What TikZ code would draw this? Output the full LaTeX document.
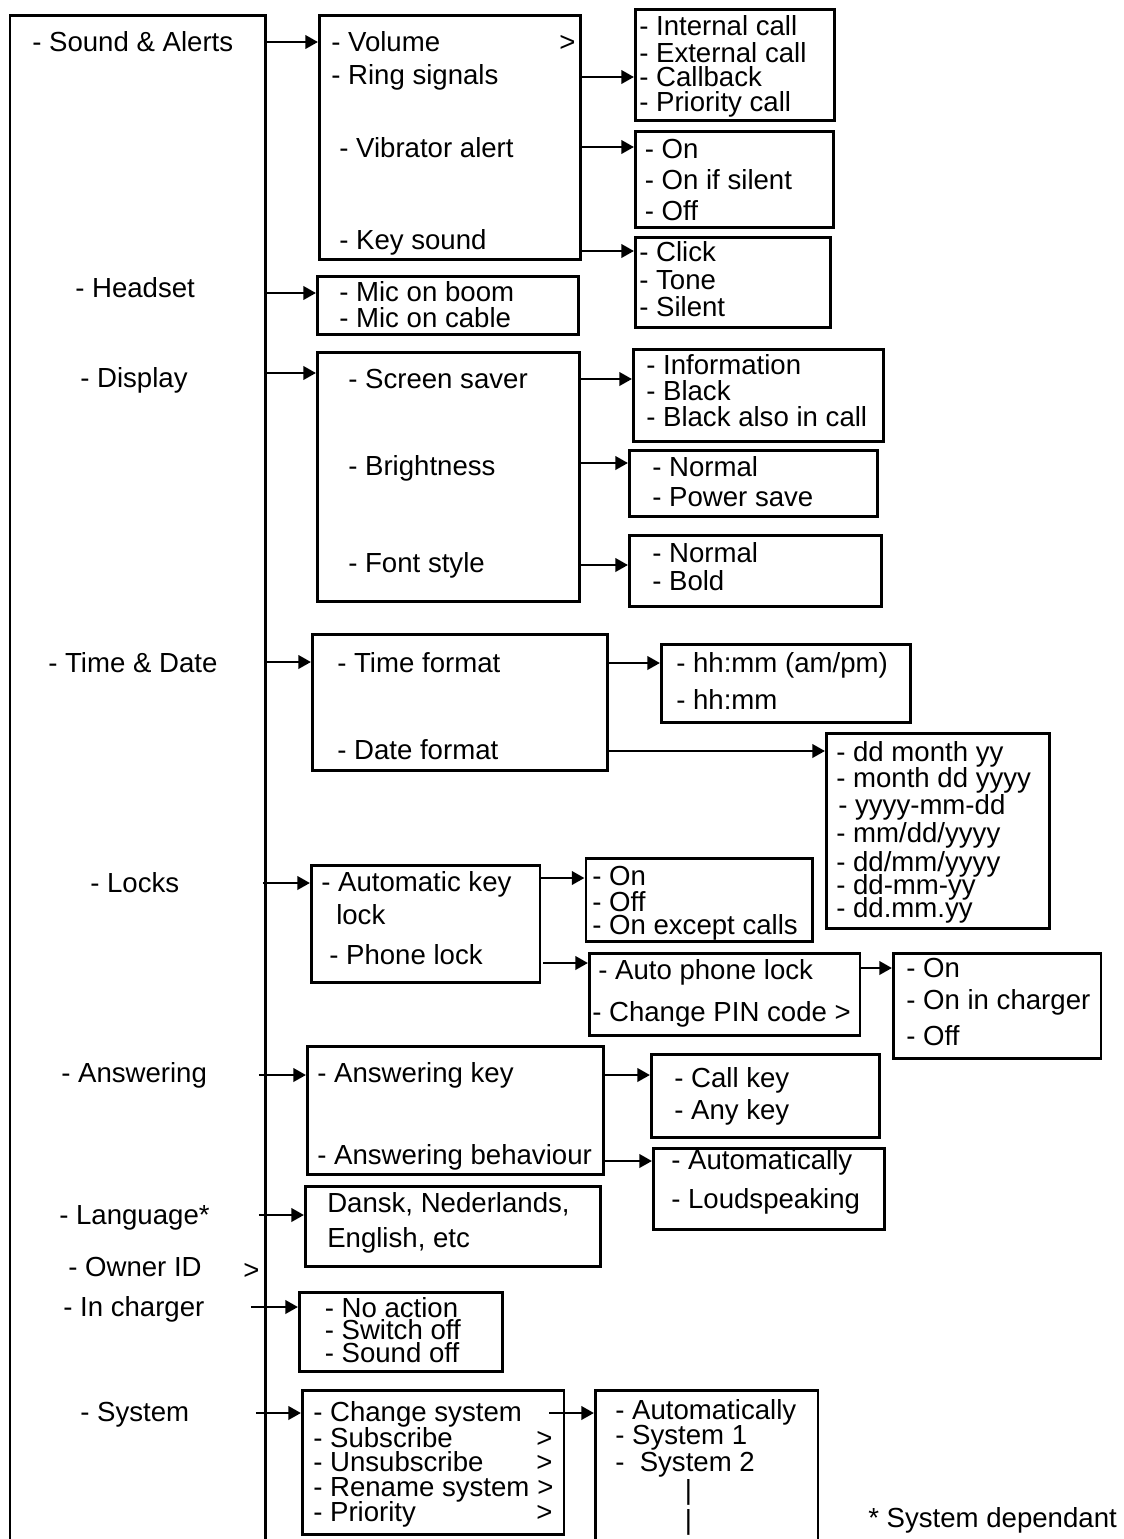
\documentclass[tikz,border=0pt]{standalone}
\usepackage{fontspec}
\setmainfont{Liberation Sans}
\usetikzlibrary{arrows.meta,calc}
\newcommand\mybx[5]{\node[box,anchor=north west,minimum width={(#4-#2)*0.75pt},minimum height={(#5-#3)*0.75pt}] (#1) at (#2,#3) {};}
\newcommand\mytx[4]{\node[t] (#1) at (#2,#3) {#4};}
\newcommand\myarr[3]{\draw[arr] (#1.east |- 0,#3) -- (#2.west |- 0,#3);}
\begin{document}
\begin{tikzpicture}[x=0.75pt,y=-0.75pt,
  box/.style={draw,line width=2.1pt,inner sep=0pt},
  t/.style={anchor=west,inner sep=0pt,font=\fontsize{20.7}{24}\selectfont,text height=14.8pt,text depth=0pt},
  arr/.style={line width=2.1pt,-{Triangle[length=9.5pt,width=10pt]}}]
\useasboundingbox (0,0) rectangle (1124,1539);
% boxes
\mybx{main}{8.5}{14}{264}{1570}
\mybx{vol}{318}{14}{579}{258}
\mybx{ring}{634}{8}{833}{119}
\mybx{vib}{634}{130}{832}{226}
\mybx{key}{634}{236}{829}{326}
\mybx{mic}{316}{275}{577}{333}
\mybx{disp}{316}{351}{578}{600}
\mybx{scr}{632}{348}{882}{440}
\mybx{bri}{628}{449}{876}{515}
\mybx{fnt}{628}{534}{880}{605}
\mybx{time}{311}{633}{606}{769}
\mybx{tf}{660}{643}{909}{721}
\mybx{df}{825}{732}{1048}{927}
\mybx{lock}{310}{864}{538.5}{981}
\mybx{akl}{584.5}{857}{811}{940}
\mybx{apl}{588}{952}{858.5}{1034}
\mybx{aplo}{892}{952}{1099.5}{1057}
\mybx{ans}{306}{1045}{602}{1173}
\mybx{ak}{650}{1053}{878}{1136}
\mybx{ab}{652}{1147}{883}{1228}
\mybx{lang}{304}{1185}{599}{1265}
\mybx{chg}{298}{1291}{501}{1370}
\mybx{sys}{301}{1389}{562.5}{1533}
\mybx{sysl}{594}{1389}{816.5}{1570}
% main menu
\mytx{m1}{32}{42}{- Sound \& Alerts}
\mytx{m2}{75}{288}{- Headset}
\mytx{m3}{80}{378}{- Display}
\mytx{m4}{48}{663}{- Time \& Date}
\mytx{m5}{90}{883}{- Locks}
\mytx{m6}{61}{1073}{- Answering}
\mytx{m7}{59}{1215}{- Language*}
\mytx{m8}{68}{1267}{- Owner ID}
\mytx{m8g}{243}{1270}{>}
\mytx{m9}{63}{1307}{- In charger}
\mytx{m10}{80}{1412}{- System}
% sound
\mytx{v1}{331}{42}{- Volume}
\mytx{v1g}{559}{42}{>}
\mytx{v2}{331}{75}{- Ring signals}
\mytx{v3}{339}{148}{- Vibrator alert}
\mytx{v4}{339}{240}{- Key sound}
\mytx{r1}{639}{26}{- Internal call}
\mytx{r2}{639}{53}{- External call}
\mytx{r3}{639}{77}{- Callback}
\mytx{r4}{639}{102}{- Priority call}
\mytx{b1}{644.5}{149}{- On}
\mytx{b2}{644.5}{180}{- On if silent}
\mytx{b3}{644.5}{211}{- Off}
\mytx{k1}{639}{252}{- Click}
\mytx{k2}{639}{280}{- Tone}
\mytx{k3}{639}{307}{- Silent}
\mytx{h1}{339}{292}{- Mic on boom}
\mytx{h2}{339}{318}{- Mic on cable}
% display
\mytx{d1}{348}{379}{- Screen saver}
\mytx{d2}{348}{466}{- Brightness}
\mytx{d3}{348}{563}{- Font style}
\mytx{s1}{646}{365}{- Information}
\mytx{s2}{646}{391}{- Black}
\mytx{s3}{646}{417}{- Black also in call}
\mytx{br1}{652}{467}{- Normal}
\mytx{br2}{652}{497}{- Power save}
\mytx{f1}{652}{553}{- Normal}
\mytx{f2}{652}{581}{- Bold}
% time
\mytx{tt1}{337}{663}{- Time format}
\mytx{tt2}{337}{750}{- Date format}
\mytx{tf1}{676}{663}{- hh:mm (am/pm)}
\mytx{tf2}{676}{700}{- hh:mm}
\mytx{df1}{836}{752}{- dd month yy}
\mytx{df2}{836}{778}{- month dd yyyy}
\mytx{df3}{838}{805}{- yyyy-mm-dd}
\mytx{df4}{836}{833}{- mm/dd/yyyy}
\mytx{df5}{836}{862}{- dd/mm/yyyy}
\mytx{df6}{836}{885}{- dd-mm-yy}
\mytx{df7}{836}{908}{- dd.mm.yy}
% locks
\mytx{l1}{321}{882}{- Automatic key}
\mytx{l2}{336}{915}{lock}
\mytx{l3}{329}{955}{- Phone lock}
\mytx{a1}{592}{876}{- On}
\mytx{a2}{592}{902}{- Off}
\mytx{a3}{592}{925}{- On except calls}
\mytx{p1}{598}{970}{- Auto phone lock}
\mytx{p2}{592}{1012}{- Change PIN code >}
\mytx{o1}{906}{968}{- On}
\mytx{o2}{906}{1000}{- On in charger}
\mytx{o3}{906}{1036}{- Off}
% answering
\mytx{n1}{317}{1073}{- Answering key}
\mytx{n2}{317}{1155}{- Answering behaviour}
\mytx{ck1}{674}{1078}{- Call key}
\mytx{ck2}{674}{1110}{- Any key}
\mytx{au1}{671}{1160}{- Automatically}
\mytx{au2}{671}{1199}{- Loudspeaking}
% language
\mytx{g1}{327}{1203}{Dansk, Nederlands,}
\mytx{g2}{327}{1238}{English, etc}
% charger
\mytx{c1}{324.5}{1308}{- No action}
\mytx{c2}{324.5}{1330}{- Switch off}
\mytx{c3}{324.5}{1353}{- Sound off}
% system
\mytx{y1}{313}{1412}{- Change system}
\mytx{y2}{313}{1438}{- Subscribe}
\mytx{y3}{313}{1462}{- Unsubscribe}
\mytx{y4}{313}{1487}{- Rename system}
\mytx{y5}{313}{1512}{- Priority}
\mytx{y2g}{536}{1438}{>}
\mytx{y3g}{536}{1462}{>}
\mytx{y4g}{537}{1487}{>}
\mytx{y5g}{536}{1512}{>}
\mytx{z1}{615}{1410}{- Automatically}
\mytx{z2}{615}{1435}{- System 1}
\mytx{z3}{615}{1462}{- \ System 2}
\mytx{z4}{684.5}{1490}{|}
\mytx{z5}{684.5}{1520}{|}
\mytx{fn}{868}{1518}{* System dependant}
% connectors
\myarr{main}{vol}{42}
\myarr{vol}{ring}{77}
\myarr{vol}{vib}{147}
\myarr{vol}{key}{251}
\myarr{main}{mic}{293}
\myarr{main}{disp}{373}
\myarr{disp}{scr}{379}
\myarr{disp}{bri}{463}
\myarr{disp}{fnt}{565}
\myarr{main}{time}{662}
\myarr{time}{tf}{663}
\myarr{time}{df}{751}
\draw[arr] ($(main.east |- 0,883)+(-4,0)$) -- (lock.west |- 0,883);
\myarr{lock}{akl}{878}
\draw[arr] ($(lock.east |- 0,963)+(2,0)$) -- (apl.west |- 0,963);
\myarr{apl}{aplo}{968}
\draw[arr] ($(main.east |- 0,1075)+(-8,0)$) -- (ans.west |- 0,1075);
\myarr{ans}{ak}{1075}
\myarr{ans}{ab}{1161}
\draw[arr] ($(main.east |- 0,1215)+(-8,0)$) -- (lang.west |- 0,1215);
\draw[arr] ($(main.east |- 0,1307)+(-16,0)$) -- (chg.west |- 0,1307);
\draw[arr] ($(main.east |- 0,1413)+(-11,0)$) -- (sys.west |- 0,1413);
\draw[arr] ($(sys.east |- 0,1413)+(-16,0)$) -- (sysl.west |- 0,1413);
\end{tikzpicture}
\end{document}
